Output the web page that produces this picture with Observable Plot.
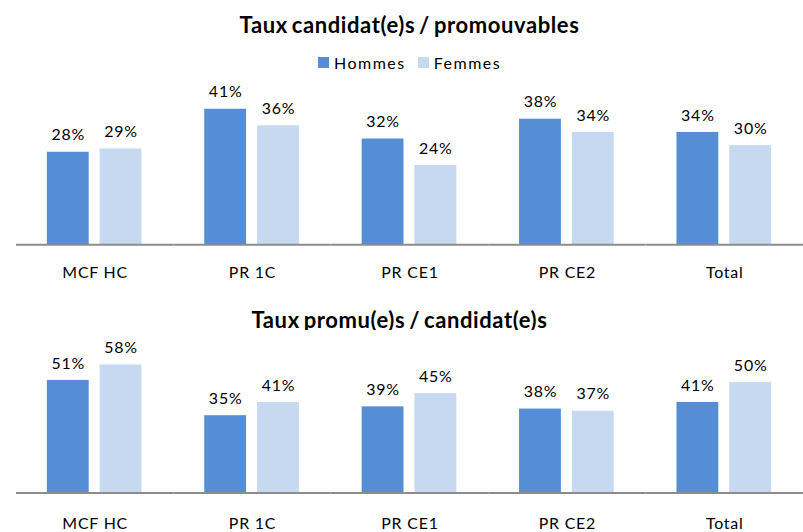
<!DOCTYPE html>
<html><head><meta charset="utf-8">
<script src="https://cdn.jsdelivr.net/npm/d3@7"></script>
<script src="https://cdn.jsdelivr.net/npm/@observablehq/plot@0.6"></script>
<style>
body{margin:0;background:#fff;font-family:Lato,"Open Sans",sans-serif;}
#wrap{position:relative;width:803px;height:532px;overflow:hidden;background:#fff}
.title{position:absolute;width:803px;text-align:center;font-weight:bold;font-size:22px;line-height:26px;color:#000;letter-spacing:0.6px;word-spacing:-2px;white-space:nowrap}
#legend{position:absolute;left:318px;top:52px;height:20px;display:flex;align-items:center;font-size:16px;color:#000;letter-spacing:1.5px;white-space:nowrap}
#legend .sw{display:inline-block;width:11px;height:11px;margin-right:5px}
#legend .item{display:flex;align-items:center;margin-right:12px}
.chart{position:absolute;left:0}
</style>
</head><body>
<div id="wrap">
  <div class="title" id="t1" style="top:12px;left:8px"></div>
  <div id="legend"></div>
  <div class="chart" id="c1" style="top:75px"></div>
  <div class="title" id="t2" style="top:307px;left:-2px"></div>
  <div class="chart" id="c2" style="top:330px"></div>
</div>
<script>
const categories = ["MCF HC", "PR 1C", "PR CE1", "PR CE2", "Total"];
const series = ["Hommes", "Femmes"];
const colors = ["#558ED5", "#C6D9F1"];
const title1 = "Taux candidat(e)s / promouvables";
const title2 = "Taux promu(e)s / candidat(e)s";
const candHommes = [28, 41, 32, 38, 34];
const candFemmes = [29, 36, 24, 34, 30];
const promHommes = [51, 35, 39, 38, 41];
const promFemmes = [58, 41, 45, 37, 50];

function tidy(h, f) {
  const out = [];
  categories.forEach((c, i) => {
    out.push({cat: c, sex: series[0], value: h[i]});
    out.push({cat: c, sex: series[1], value: f[i]});
  });
  return out;
}

document.getElementById("t1").textContent = title1;
document.getElementById("t2").textContent = title2;
const leg = document.getElementById("legend");
series.forEach((s, i) => {
  const it = document.createElement("span");
  it.className = "item";
  const sw = document.createElement("span");
  sw.className = "sw";
  sw.style.background = colors[i];
  it.appendChild(sw);
  it.appendChild(document.createTextNode(s));
  leg.appendChild(it);
});

function chart(data, height, marginBottom, marginTop, ymax, pad) {
  return Plot.plot({
    width: 806,
    height,
    marginLeft: 16,
    marginRight: 0,
    marginTop,
    marginBottom,
    style: {fontFamily: "Lato, 'Open Sans', sans-serif", fontSize: "16px", color: "#000", background: "#fff", letterSpacing: "0.8px"},
    fx: {domain: categories, padding: 0, label: null},
    x: {domain: series, paddingInner: 0.2075, paddingOuter: 0.594, axis: null},
    y: {domain: [0, ymax], axis: null},
    color: {domain: series, range: colors},
    marks: [
      Plot.barY(data, {fx: "cat", x: "sex", y: "value", fill: "sex"}),
      Plot.ruleY([0], {stroke: "#8c8c8c", strokeWidth: 2}),
      Plot.text(data, {fx: "cat", x: "sex", y: "value", text: d => d.value + "%", dy: -17, fill: "#000", fontSize: 16}),
      Plot.axisFx({anchor: "bottom", tickSize: 0, tickPadding: pad, fontSize: 16, label: null, fill: "#000"})
    ]
  });
}

document.getElementById("c1").appendChild(chart(tidy(candHommes, candFemmes), 215, 45, 4, 50, 22));
document.getElementById("c2").appendChild(chart(tidy(promHommes, promFemmes), 202, 39, 8, 70, 25));
</script>
</body></html>
